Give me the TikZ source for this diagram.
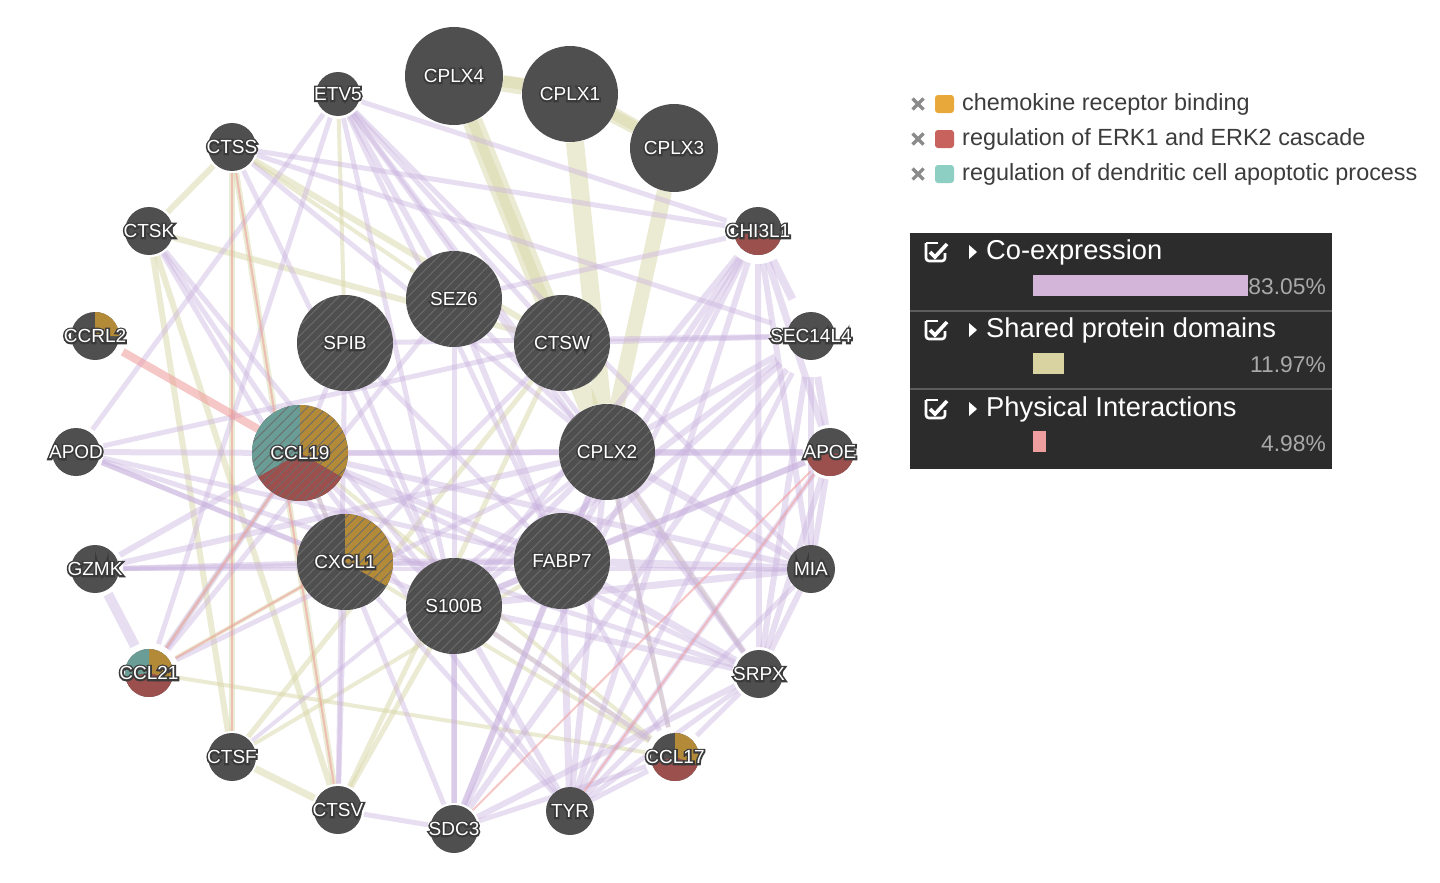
\documentclass[tikz,border=0pt]{standalone}
\usepackage{fontspec}
\setmainfont{Liberation Sans}
\newfontfamily\halofont[FakeBold=18]{Liberation Sans}
\usetikzlibrary{patterns.meta,calc}
\definecolor{ndark}{HTML}{4F4F4F}
\definecolor{halo}{HTML}{3A3A3A}
\definecolor{hatchc}{HTML}{6C6C6C}
\definecolor{pgold}{HTML}{B38A38}
\definecolor{pred}{HTML}{9C504E}
\definecolor{pteal}{HTML}{6A9D96}
\definecolor{lgold}{HTML}{E9A93A}
\definecolor{lred}{HTML}{C8625C}
\definecolor{lteal}{HTML}{8ECFC4}
\definecolor{coexc}{HTML}{C9B2DE}
\definecolor{domc}{HTML}{DCDAAE}
\definecolor{physc}{HTML}{F09A9A}
\definecolor{panelbg}{HTML}{2C2C2C}
\definecolor{sepc}{HTML}{5C5C5C}
\definecolor{pctc}{HTML}{A9A9A9}
\definecolor{barp}{HTML}{D3B5DA}
\definecolor{bark}{HTML}{D8D3A0}
\definecolor{barr}{HTML}{EE9E9E}
\definecolor{legtxt}{HTML}{3C3C3C}
\definecolor{xgrey}{HTML}{8A8A8A}
\newcommand\halo[1]{\rlap{\halofont\textcolor{halo}{#1}}\textcolor{white}{#1}}
\pgfdeclarelayer{edges}
\pgfdeclarelayer{disks}
\pgfsetlayers{edges,disks,main}
\tikzset{
  gn/.style={circle,inner sep=0pt,font=\fontsize{19}{19}\selectfont},
  coex/.style={draw=coexc,draw opacity=0.42,line width=#1},
  coex/.default=5,
  dom/.style={draw=domc,draw opacity=0.55,line width=#1},
  dom/.default=5,
  phys/.style={draw=physc,draw opacity=0.55,line width=#1},
  phys/.default=2,
  legtext/.style={anchor=west,text=legtxt,font=\fontsize{23.4}{23.4}\selectfont,inner sep=0pt},
  ptitle/.style={anchor=west,text=white,font=\fontsize{27.3}{27.3}\selectfont,inner sep=0pt},
  ppct/.style={anchor=east,text=pctc,font=\fontsize{22.8}{22.8}\selectfont,inner sep=0pt},
  hatch/.style={pattern={Lines[angle=45,distance=7pt,line width=0.9pt]},pattern color=hatchc},
}
% name, x, y, r, label
\newcommand\gene[5]{%
  \begin{pgfonlayer}{disks}\fill[ndark] (#2,#3) circle (#4);\end{pgfonlayer}%
  \node[gn,minimum size={2*#4}] (#1) at (#2,#3) {\halo{#5}};}
% x, y, r, a1, a2 (visual degrees), colour
\newcommand\slice[6]{%
  \begin{pgfonlayer}{disks}\fill[#6] (#1,#2) -- +({-(#4)}:#3) arc[start angle={-(#4)},end angle={-(#5)},radius=#3] -- cycle;\end{pgfonlayer}}
\newcommand\hatched[3]{%
  \begin{pgfonlayer}{disks}\fill[hatch] (#1,#2) circle (#3);\end{pgfonlayer}}
\newcommand\xmark[2]{\draw[xgrey,line width=3.2pt] (#1-5.5,#2-5.5) -- (#1+5.5,#2+5.5) (#1-5.5,#2+5.5) -- (#1+5.5,#2-5.5);}
\newcommand\checkbox[2]{%
  \draw[white,line width=2.6pt,rounded corners=3pt] (#1,#2-9) -- (#1,#2+9) -- (#1+19,#2+9) -- (#1+19,#2+1);
  \draw[white,line width=2.6pt,rounded corners=3pt] (#1+12,#2-9) -- (#1,#2-9);
  \draw[white,line width=3.6pt] (#1+4,#2) -- (#1+9,#2+5) -- (#1+21,#2-8);
  \fill[white] (#1+43,#2-7) -- (#1+43,#2+7) -- (#1+51,#2) -- cycle;}
\begin{document}
\begin{tikzpicture}[x=1pt,y=-1pt]
\useasboundingbox (0,0) rectangle (1440,883);
\begin{pgfonlayer}{edges}\fill[white] (0,0) rectangle (1440,883);\end{pgfonlayer}
% ---------- genes ----------
\gene{cplx4}{454}{76}{49}{CPLX4}
\gene{cplx1}{570}{94}{48}{CPLX1}
\gene{cplx3}{674}{148}{44}{CPLX3}
\gene{etv5}{338}{94}{22}{ETV5}
\gene{ctss}{232}{147}{24}{CTSS}
\gene{ctsk}{149}{231}{24}{CTSK}
\gene{ccrl2}{95}{336}{24}{CCRL2}
\gene{apod}{76}{452}{24}{APOD}
\gene{gzmk}{95}{569}{24}{GZMK}
\gene{ccl21}{149}{673}{24}{CCL21}
\gene{ctsf}{232}{757}{24}{CTSF}
\gene{ctsv}{338}{810}{24}{CTSV}
\gene{sdc3}{454}{829}{24}{SDC3}
\gene{tyr}{570}{811}{24}{TYR}
\gene{ccl17}{675}{757}{24}{CCL17}
\gene{srpx}{759}{674}{24}{SRPX}
\gene{mia}{811}{569}{24}{MIA}
\gene{apoe}{830}{452}{24}{APOE}
\gene{sec}{811}{336}{24}{SEC14L4}
\gene{chi}{758}{231}{24}{CHI3L1}
\gene{sez6}{454}{299}{48}{SEZ6}
\gene{spib}{345}{343}{48}{SPIB}
\gene{ctsw}{562}{343}{48}{CTSW}
\gene{ccl19}{300}{453}{48}{CCL19}
\gene{cplx2}{607}{452}{48}{CPLX2}
\gene{cxcl1}{345}{562}{48}{CXCL1}
\gene{fabp7}{562}{561}{48}{FABP7}
\gene{s100b}{454}{606}{48}{S100B}
% pie slices of annotated genes
\slice{95}{336}{24}{0}{90}{pgold}
\slice{149}{673}{24}{-15}{90}{pgold}
\slice{149}{673}{24}{90}{190}{pteal}
\slice{149}{673}{24}{190}{345}{pred}
\slice{675}{757}{24}{-20}{90}{pgold}
\slice{675}{757}{24}{195}{340}{pred}
\slice{830}{452}{24}{195}{345}{pred}
\slice{758}{231}{24}{195}{345}{pred}
\slice{300}{453}{48}{-30}{90}{pgold}
\slice{300}{453}{48}{90}{210}{pteal}
\slice{300}{453}{48}{210}{330}{pred}
\slice{345}{562}{48}{-30}{90}{pgold}
\hatched{454}{299}{48}\hatched{345}{343}{48}\hatched{562}{343}{48}
\hatched{300}{453}{48}\hatched{607}{452}{48}\hatched{345}{562}{48}
\hatched{562}{561}{48}\hatched{454}{606}{48}
% ---------- connectors ----------
\begin{pgfonlayer}{edges}
% shared protein domains
\draw[dom=16] (cplx4) -- (cplx1);
\draw[dom=13] (cplx1) -- (cplx3);
\draw[dom=12] (cplx4) to[bend left=12] (cplx3);
\draw[dom=20] (cplx4) -- (cplx2);
\draw[dom=18] (cplx1) -- (cplx2);
\draw[dom=15] (cplx3) -- (cplx2);
\draw[dom=10] (cplx4) -- (ctsw);
\foreach \a/\b/\w in {ctss/ctsk/6,ctss/ctsf/6,ctss/ctsv/6,ctsk/ctsf/6,ctsk/ctsv/6,ctsf/ctsv/7,
  ctss/ctsw/6,ctsk/ctsw/6,ctsf/ctsw/5,ctsv/ctsw/5,ctss/sez6/4,
  ccl19/ccl21/4,ccl19/ccl17/4,ccl21/ccl17/4,cxcl1/ccl17/4,cxcl1/ccl21/4,ccl19/cxcl1/4,
  etv5/spib/4,ctsv/s100b/5,ctsf/fabp7/4,cplx2/srpx/4,cplx2/ccl17/4,s100b/ccl17/4}
  {\draw[dom=\w] (\a) -- (\b);}
% co-expression
\foreach \a/\b/\w in {chi/ctss/5,chi/etv5/5,chi/sez6/5,chi/cplx2/6,chi/fabp7/6,chi/s100b/6,chi/tyr/6,
  chi/sdc3/5,chi/sec/8,chi/apoe/7,chi/mia/6,chi/srpx/6,
  sec/apoe/7,sec/mia/6,sec/srpx/6,sec/sdc3/6,sec/cplx2/6,sec/fabp7/6,sec/spib/5,sec/ctsw/5,sec/s100b/6,sec/tyr/5,
  apoe/mia/6,apoe/cplx2/7,apoe/fabp7/6,apoe/s100b/6,apoe/ccl19/5,apoe/tyr/5,apoe/srpx/6,
  mia/cplx2/7,mia/fabp7/8,mia/s100b/7,mia/gzmk/4,mia/ccl19/6,mia/srpx/6,mia/tyr/5,
  srpx/cplx2/6,srpx/fabp7/7,srpx/s100b/6,srpx/ccl19/5,srpx/sdc3/6,srpx/tyr/5,srpx/ccl17/5,
  ccl17/s100b/5,ccl17/fabp7/5,ccl17/cplx2/5,ccl17/sdc3/5,ccl17/tyr/5,
  tyr/fabp7/7,tyr/cplx2/6,tyr/s100b/6,tyr/ccl19/5,tyr/cxcl1/5,
  sdc3/fabp7/6,sdc3/cplx2/6,sdc3/s100b/6,sdc3/ccl19/5,sdc3/ctsv/5,sdc3/sez6/5,
  ctsv/spib/5,ctsv/cxcl1/5,ctsf/cplx2/4,
  ccl21/gzmk/10,ccl21/ccl19/6,ccl21/cplx2/5,ccl21/etv5/5,ccl21/sez6/5,
  gzmk/ccl19/6,gzmk/cxcl1/5,gzmk/fabp7/5,gzmk/cplx2/6,
  apod/ccl19/6,apod/ctsw/5,apod/fabp7/5,apod/s100b/5,apod/etv5/5,apod/cxcl1/5,apod/srpx/5,
  ctsk/ccl19/5,ctsk/cxcl1/5,ctsk/s100b/5,
  ctss/cplx2/5,ctss/s100b/5,ctss/sec/5,
  etv5/sez6/6,etv5/ctsw/5,etv5/cplx2/5,etv5/s100b/5,etv5/fabp7/5,etv5/mia/5,etv5/srpx/5,
  sez6/cplx2/5,sez6/fabp7/6,spib/ccl19/5,spib/s100b/5,spib/fabp7/5,ctsw/cxcl1/5,
  ccl19/cplx2/6,ccl19/fabp7/6,cxcl1/fabp7/6,s100b/fabp7/6,cplx2/s100b/6,ccl19/s100b/5,cplx2/fabp7/6}
  {\draw[coex=\w] (\a) -- (\b);}
% physical interactions
\draw[phys=8] (ccrl2) -- (ccl19);
\foreach \a/\b in {ctss/ctsv,ctss/ctsf,ccl21/cxcl1,ccl21/ccl19,apoe/sdc3,apoe/tyr}
  {\draw[phys=2] (\a) -- (\b);}
\end{pgfonlayer}
% ---------- legend ----------
\xmark{918}{104}\xmark{918}{139}\xmark{918}{174}
\fill[lgold,rounded corners=3pt] (935,95) rectangle (954,113);
\fill[lred,rounded corners=3pt] (935,130) rectangle (954,148);
\fill[lteal,rounded corners=3pt] (935,165) rectangle (954,183);
\node[legtext] (l1) at (962,104) {chemokine receptor binding};
\node[legtext] (l2) at (962,139) {regulation of ERK1 and ERK2 cascade};
\node[legtext] (l3) at (962,174) {regulation of dendritic cell apoptotic process};
% ---------- network panel ----------
\fill[panelbg] (910,233) rectangle (1332,469);
\draw[sepc,line width=2pt] (910,311) -- (1332,311);
\draw[sepc,line width=2pt] (910,389) -- (1332,389);
\checkbox{926}{252}
\checkbox{926}{330}
\checkbox{926}{409}
\node[ptitle] (t1) at (986,252) {Co-expression};
\node[ptitle] (t2) at (986,330) {Shared protein domains};
\node[ptitle] (t3) at (986,409) {Physical Interactions};
\fill[barp] (1033,275) rectangle (1248,296);
\fill[bark] (1033,353) rectangle (1064,374);
\fill[barr] (1033,431) rectangle (1046,452);
\node[ppct] (p1) at (1326,287) {83.05\%};
\node[ppct] (p2) at (1326,365) {11.97\%};
\node[ppct] (p3) at (1326,444) {4.98\%};
\end{tikzpicture}
\end{document}
